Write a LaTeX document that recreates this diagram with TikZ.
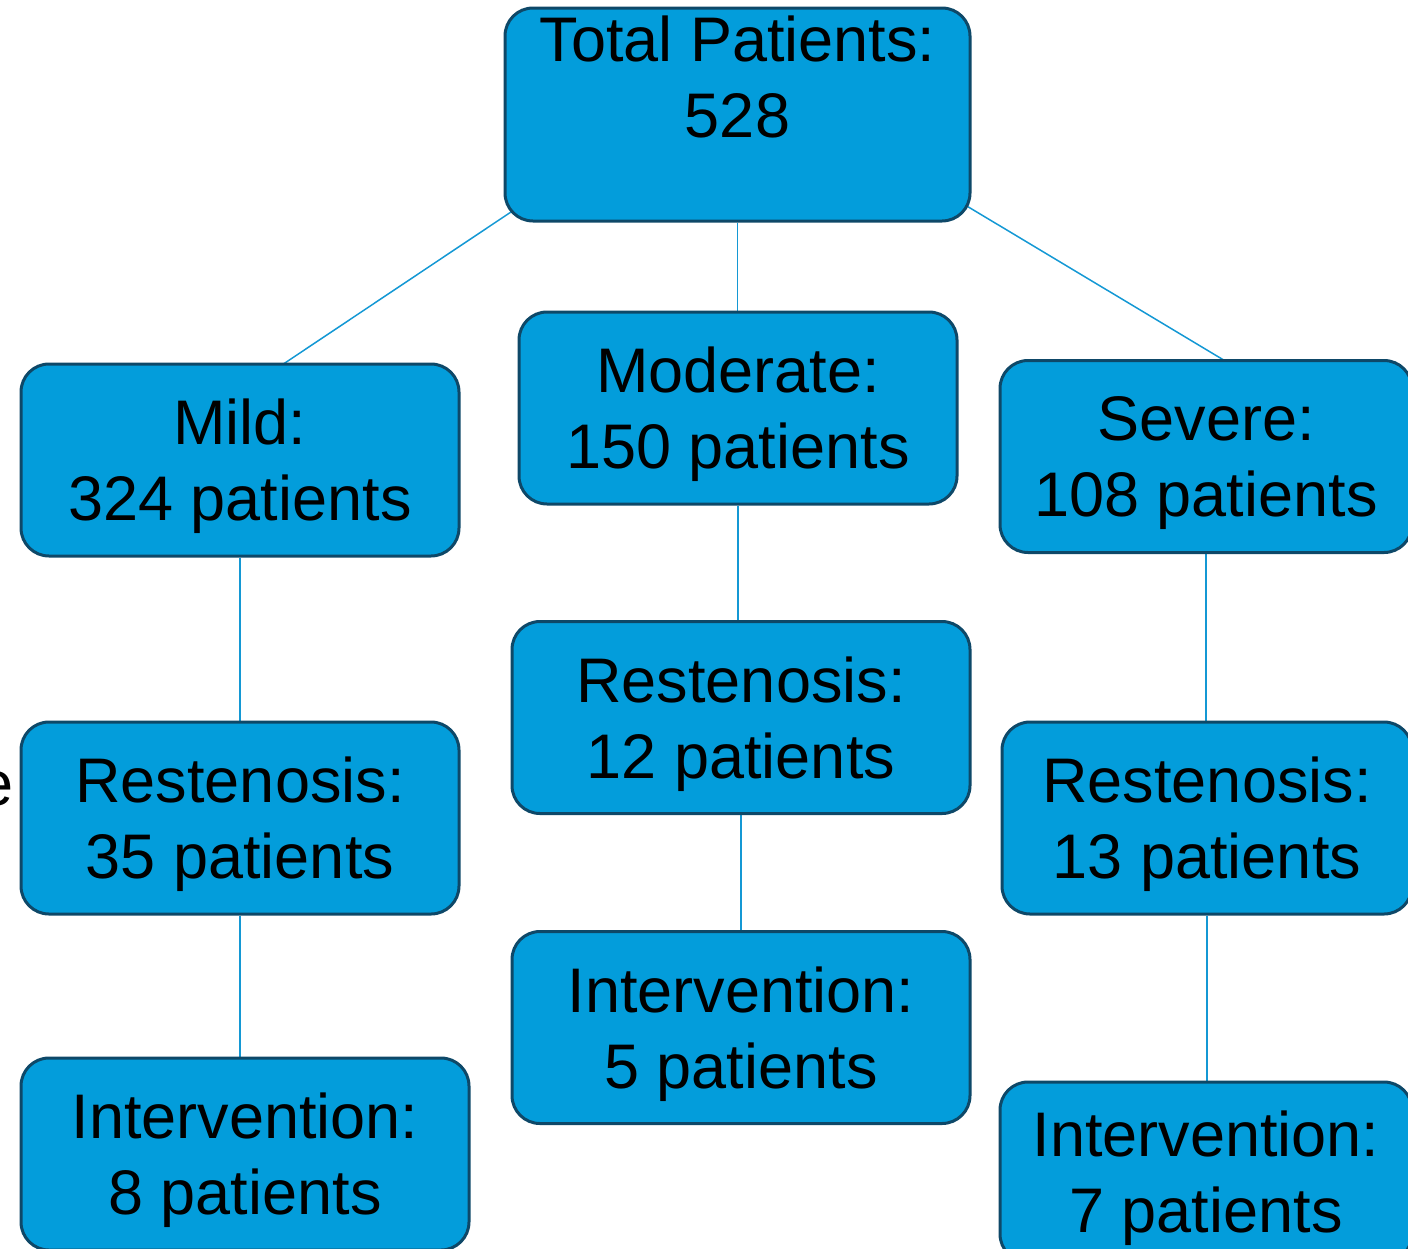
\documentclass[tikz,border=0pt]{standalone}
\usepackage{fontspec}
\setmainfont{Liberation Sans}
\usetikzlibrary{backgrounds}
\definecolor{boxfill}{RGB}{3,157,219}
\definecolor{boxedge}{RGB}{14,72,104}
\definecolor{linkcol}{RGB}{20,152,212}
\newcommand{\bigtext}{\fontsize{63}{76}\selectfont}
\tikzset{
  box/.style={draw=boxedge, fill=boxfill, line width=3pt, rounded corners=28pt,
    align=center, inner sep=0pt, font=\bigtext, text depth=0pt,
    minimum width=438pt, minimum height=192pt},
  link/.style={draw=linkcol, line width=1.5pt}
}
\begin{document}
\begin{tikzpicture}[x=1pt,y=-1pt]
        \useasboundingbox (0,0) rectangle (1408,1248);
        \clip (0,0) rectangle (1408,1248);
        \node[box, minimum width=465pt, minimum height=213pt, text depth=75pt] (tot) at (737.5,114.5) {Total Patients:\\528};
        \node[box] (mild) at (240,460) {Mild:\\324 patients};
        \node[box] (mod) at (738,408) {Moderate:\\150 patients};
        \node[box, minimum width=412pt] (sev) at (1206,456.5) {Severe:\\108 patients};
        \node[box] (rmild) at (240,818) {Restenosis:\\35 patients};
        \node[box, minimum width=458pt] (rmod) at (741,717.5) {Restenosis:\\12 patients};
        \node[box, minimum width=410pt] (rsev) at (1207,818) {Restenosis:\\13 patients};
        \node[box, minimum width=448pt] (imild) at (245,1154) {Intervention:\\8 patients};
        \node[box, minimum width=458pt] (imod) at (741,1027.5) {Intervention:\\5 patients};
        \node[box, minimum width=412pt, minimum height=180pt] (isev) at (1206,1172) {Intervention:\\7 patients};
        \node[anchor=base east, font=\bigtext, inner sep=0pt] (cut) at (14,805) {e};
        \begin{scope}[on background layer]
            \draw[link] ([shift={(-109,19)}]tot.center) -- ([shift={(-24,-51)}]mild.center);
            \draw[link] ([shift={(97.5,12.5)}]tot.center) -- ([shift={(71,-64.5)}]sev.center);
            \foreach \a/\b in {tot/mod, mod/rmod, rmod/imod, mild/rmild, rmild/imild, sev/rsev, rsev/isev}
                \draw[link] (\a) -- (\a |- \b);
        \end{scope}
\end{tikzpicture}
\end{document}
